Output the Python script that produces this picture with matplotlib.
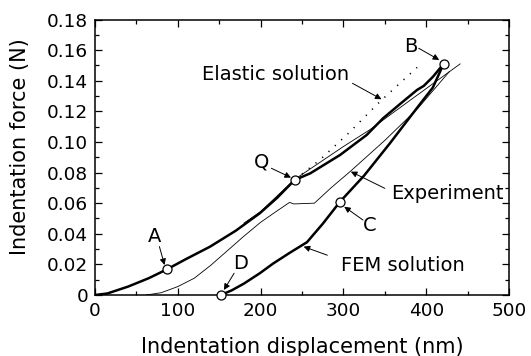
import matplotlib
matplotlib.use('Agg')
import matplotlib.pyplot as plt
from matplotlib.ticker import MultipleLocator

# FEM solution (thick) - loading branch
fem_load_x = [0, 15, 40, 65, 87, 110, 139, 170, 199, 220, 241, 260, 296, 328, 348, 370, 389, 397, 408, 421]
fem_load_y = [0, 0.001, 0.0055, 0.011, 0.0168, 0.0235, 0.0316, 0.042, 0.0534, 0.0635, 0.0751,
              0.0795, 0.0915, 0.1045, 0.1155, 0.1255, 0.134, 0.1366, 0.1425, 0.151]
# FEM solution (thick) - unloading branch
fem_unload_x = [152, 165, 180, 199, 215, 235, 256, 275, 296, 325, 356, 390, 408, 421]
fem_unload_y = [0, 0.003, 0.0075, 0.0142, 0.0205, 0.0275, 0.0345, 0.0465, 0.061, 0.078,
                0.099, 0.123, 0.1355, 0.151]
# thin solid line along loading branch
thin_x = [180, 200, 241, 300, 332, 380, 441]
thin_y = [0.047, 0.0545, 0.0755, 0.097, 0.108, 0.127, 0.151]
# Experiment (thin)
exp_x = [62, 80, 100, 120, 140, 160, 180, 200, 220, 235, 240, 265, 285, 308, 350, 390, 428]
exp_y = [0, 0.0015, 0.0055, 0.011, 0.0195, 0.0290, 0.0385, 0.0475, 0.0550, 0.0605, 0.0595,
         0.0600, 0.070, 0.0806, 0.101, 0.122, 0.146]
# Elastic solution (dotted)
ela_x = [250, 272, 306, 344, 389]
ela_y = [0.079, 0.0885, 0.1056, 0.1263, 0.1487]
# marked points
pt_names = ['A', 'Q', 'B', 'C', 'D']
pt_x = [87, 241, 421, 296, 152]
pt_y = [0.0168, 0.0751, 0.151, 0.061, 0.0]

fig = plt.figure(figsize=(5.31, 3.56), dpi=100)
ax = fig.add_axes([95/531, 61/356, 414/531, 275.5/356])

ax.plot(fem_load_x, fem_load_y, color='black', lw=1.8, solid_joinstyle='round')
ax.plot(fem_unload_x, fem_unload_y, color='black', lw=1.8, solid_joinstyle='round')
ax.plot(thin_x, thin_y, color='black', lw=0.6)
ax.plot(exp_x, exp_y, color='black', lw=0.6)
ax.plot(ela_x, ela_y, color='black', lw=1.2, linestyle=(0, (0.7, 4.5)))
ax.plot(pt_x, pt_y, linestyle='none', marker='o', markersize=6.5,
        markerfacecolor='white', markeredgecolor='black', markeredgewidth=0.9, zorder=5, clip_on=False)

ax.set_xlim(0, 500)
ax.set_ylim(0, 0.18)
ax.xaxis.set_major_locator(MultipleLocator(100))
ax.xaxis.set_minor_locator(MultipleLocator(50))
ax.yaxis.set_minor_locator(MultipleLocator(0.01))
ax.set_yticks([0, 0.02, 0.04, 0.06, 0.08, 0.10, 0.12, 0.14, 0.16, 0.18])
ax.set_yticklabels(['0', '0.02', '0.04', '0.06', '0.08', '0.10', '0.12', '0.14', '0.16', '0.18'])
ax.tick_params(which='both', direction='in', top=True, right=True, width=0.9)
ax.tick_params(which='major', length=5, pad=5, labelsize=13.3)
ax.tick_params(which='minor', length=3)
for lab in ax.get_xticklabels() + ax.get_yticklabels():
    lab.set_family('DejaVu Sans')
for s in ax.spines.values():
    s.set_linewidth(1.1)

lf = dict(family='DejaVu Sans', fontsize=15)
ax.set_xlabel('Indentation displacement (nm)', labelpad=12, **lf)
ax.set_ylabel('Indentation force (N)', **lf)
ax.yaxis.set_label_coords(-0.157, 0.537)

ap = dict(arrowstyle='-|>', lw=0.7, color='black', mutation_scale=9, shrinkA=0, shrinkB=0)
tf = dict(family='DejaVu Sans', fontsize=14, ha='center', va='center')
ax.annotate('', xy=(84, 0.0196), xytext=(77.8, 0.0316), arrowprops=ap)
ax.text(71.7, 0.0381, 'A', **tf)
ax.annotate('', xy=(155.7, 0.0033), xytext=(168, 0.0142), arrowprops=ap)
ax.text(176, 0.0207, 'D', **tf)
ax.annotate('', xy=(301, 0.0577), xytext=(323.6, 0.049), arrowprops=ap)
ax.text(331.8, 0.0457, 'C', **tf)
ax.annotate('', xy=(236.7, 0.0767), xytext=(213, 0.0828), arrowprops=ap)
ax.text(200.7, 0.0871, 'Q', **tf)
ax.annotate('', xy=(415.7, 0.1536), xytext=(391, 0.1612), arrowprops=ap)
ax.text(381, 0.1623, 'B', **tf)
ax.annotate('', xy=(346, 0.1279), xytext=(311, 0.1383), arrowprops=ap)
ax.text(218, 0.1438, 'Elastic solution', **tf)
ax.annotate('', xy=(309, 0.0806), xytext=(350, 0.0697), arrowprops=ap)
ax.text(426, 0.0664, 'Experiment', **tf)
ax.annotate('', xy=(252, 0.0316), xytext=(280.6, 0.026), arrowprops=ap)
ax.text(371.8, 0.0196, 'FEM solution', **tf)

fig.savefig('out.png', dpi=100)
